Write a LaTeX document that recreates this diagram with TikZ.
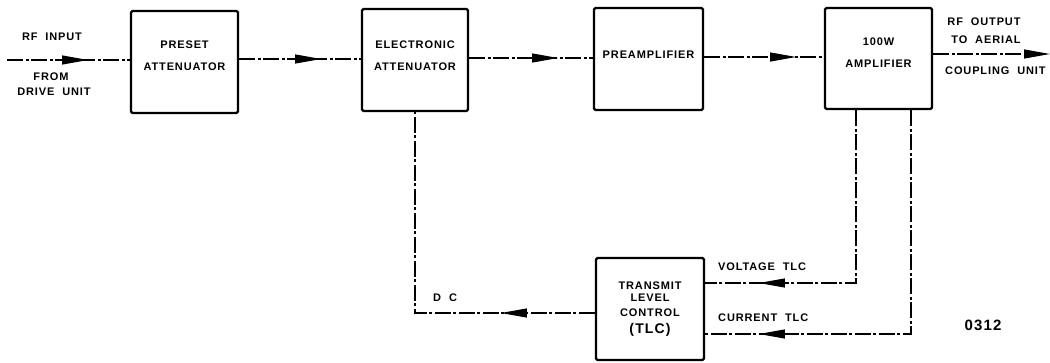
\documentclass[tikz,border=0pt]{standalone}
\usepackage{fontspec}
\newfontfamily\lbl{Liberation Sans}[LetterSpace=8,WordSpace=2]
\newcommand{\raisedlines}[2]{\raisebox{#1}[\height][\depth]{\begin{tabular}{@{}c@{}}#2\end{tabular}}}
\usetikzlibrary{arrows.meta,decorations.markings}
\tikzset{
  lblfont/.style={font=\lbl\bfseries\fontsize{11}{12}\selectfont},
  blk/.style={draw, line width=2.2pt, rounded corners=1.5pt, inner sep=0pt,
    minimum width=106pt, minimum height=102pt, align=center, lblfont},
  txt/.style={inner sep=0pt, lblfont},
  sig/.style={line width=1.1pt, dash pattern=on 16pt off 2.5pt on 3pt off 2.5pt},
  >={Triangle[length=26pt,width=9pt]},
  arrowat/.style={postaction={decorate},
    decoration={markings, mark=at position #1 with {\arrow{>}}}},
}
\begin{document}
\begin{tikzpicture}[x=1pt,y=-1pt]
\useasboundingbox (0,0) rectangle (1050,362);

% blocks
\node[blk, minimum width=107pt] (pre) at (184.5,62)
  {\raisedlines{5pt}{PRESET\\[10pt]ATTENUATOR}};
\node[blk] (ele) at (415,60)
  {\raisedlines{3pt}{ELECTRONIC\\[10pt]ATTENUATOR}};
\node[blk, minimum width=109pt] (pamp) at (648.5,59)
  {\raisedlines{3pt}{PREAMPLIFIER}};
\node[blk, minimum width=107pt, minimum height=101pt] (amp) at (878.5,58.5)
  {\raisedlines{4.5pt}{100W\\[10pt]AMPLIFIER}};
\node[blk, minimum width=108pt] (tlc) at (650,309)
  {\raisedlines{0pt}{TRANSMIT\\[0pt]LEVEL\\[3pt]CONTROL\\[3pt]{\fontsize{14}{15}\selectfont (TLC)}}};

% free ends
\coordinate (in) at (7,60);
\coordinate (out) at (1050,54);

% labels
\node[txt] (rfin) at (52,37) {RF INPUT};
\node[txt] (from) at (51,77) {FROM};
\node[txt] (drive) at (54,92) {DRIVE UNIT};
\node[txt] (rfout) at (984,22) {RF OUTPUT};
\node[txt] (aerial) at (986,40) {TO AERIAL};
\node[txt, anchor=west] (coupling) at (945,71) {COUPLING UNIT};
\node[txt, anchor=west] (vtlc) at (718,267) {VOLTAGE TLC};
\node[txt, anchor=west] (ctlc) at (718,318) {CURRENT TLC};
\node[txt, anchor=west] (dc) at (433,298) {D C};
\node[inner sep=0pt, font=\lbl\bfseries\fontsize{15}{17}\selectfont] (num) at (983,325) {0312};

% signal chain
\draw[sig, arrowat=81pt] (in) -- (in -| pre.west);
\draw[sig, arrowat=82pt] (pre.east |- 0,59) -- (ele.west |- 0,59);
\draw[sig, arrowat=89pt] (ele.east |- 0,58) -- (pamp.west |- 0,58);
\draw[sig, arrowat=92pt] (pamp.east |- 0,57) -- (amp.west |- 0,57);
\draw[sig, ->] (amp.east |- out) -- (out);

% control loops
\draw[sig, arrowat=94pt] (tlc.west |- 0,313) -- (ele.south |- 0,313) -- (ele.south);
\draw[sig, arrowat=270pt] ([xshift=-22.5pt]amp.south) -- ([xshift=-22.5pt]amp.south |- 0,283) -- (tlc.east |- 0,283);
\draw[sig, arrowat=376pt] ([xshift=32.5pt]amp.south) -- ([xshift=32.5pt]amp.south |- 0,334) -- (tlc.east |- 0,334);
\end{tikzpicture}
\end{document}
